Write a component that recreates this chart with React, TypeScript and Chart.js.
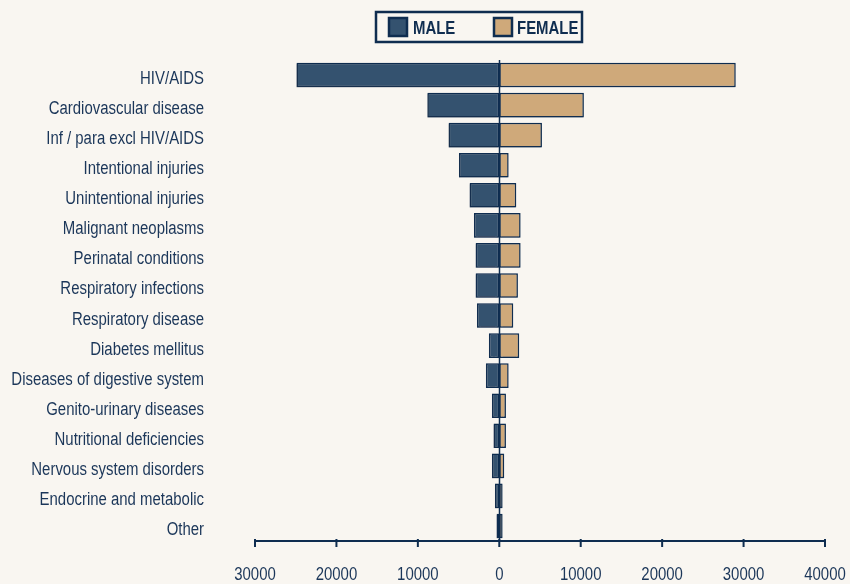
import React, { useEffect, useRef } from "react";
import { Chart, registerables } from "chart.js";

Chart.register(...registerables);

const categories = [
  "HIV/AIDS",
  "Cardiovascular disease",
  "Inf / para excl HIV/AIDS",
  "Intentional injuries",
  "Unintentional injuries",
  "Malignant neoplasms",
  "Perinatal conditions",
  "Respiratory infections",
  "Respiratory disease",
  "Diabetes mellitus",
  "Diseases of digestive system",
  "Genito-urinary diseases",
  "Nutritional deficiencies",
  "Nervous system disorders",
  "Endocrine and metabolic",
  "Other",
];

const maleValues = [
  24900, 8830, 6220, 4950, 3640, 3110, 2900, 2900, 2740, 1270, 1640, 900, 700,
  900, 530, 330,
];
const femaleValues = [
  29040, 10390, 5240, 1150, 2090, 2620, 2620, 2290, 1720, 2450, 1150, 820, 820,
  610, 410, 410,
];

const xTicks = [-30000, -20000, -10000, 0, 10000, 20000, 30000, 40000];
const xTickLabels = ["30000", "20000", "10000", "0", "10000", "20000", "30000", "40000"];

const FONT = "'Liberation Sans', Arial, sans-serif";
const NARROW = 0.83;
const TEXT = "#1b3659";
const DARK = "#0f2d50";
const MALE = "#34526f";
const FEMALE = "#cfa97a";
const BG = "#f9f6f1";

function narrowText(
  ctx: CanvasRenderingContext2D,
  text: string,
  x: number,
  y: number,
  align: CanvasTextAlign,
  font: string,
  color: string
) {
  ctx.save();
  ctx.translate(x, y);
  ctx.scale(NARROW, 1);
  ctx.font = font;
  ctx.fillStyle = color;
  ctx.textAlign = align;
  ctx.textBaseline = "alphabetic";
  ctx.fillText(text, 0, 0);
  ctx.restore();
}

const decorPlugin = {
  id: "decor",
  beforeDatasetsDraw(chart: any) {
    const ctx = chart.ctx;
    ctx.save();
    ctx.shadowColor = "rgba(40,50,70,0.45)";
    ctx.shadowBlur = 1.5;
    ctx.shadowOffsetX = -1;
    ctx.shadowOffsetY = 1;
  },
  afterDatasetsDraw(chart: any) {
    const ctx = chart.ctx;
    ctx.restore();
    const x = chart.scales.x;
    const y = chart.scales.y;
    const area = chart.chartArea;
    const zx = Math.round(x.getPixelForValue(0)) + 0.5;
    ctx.save();
    ctx.strokeStyle = DARK;
    ctx.lineWidth = 1.5;
    ctx.beginPath();
    ctx.moveTo(zx, area.top);
    ctx.lineTo(zx, area.bottom + 1);
    ctx.stroke();
    // axis ticks crossing the axis line
    ctx.lineWidth = 2;
    xTicks.forEach((v) => {
      const px = x.getPixelForValue(v);
      ctx.beginPath();
      ctx.moveTo(px, area.bottom - 2);
      ctx.lineTo(px, area.bottom + 6);
      ctx.stroke();
    });
    ctx.restore();
    // tick labels (condensed)
    xTicks.forEach((v, i) => {
      narrowText(ctx, xTickLabels[i], x.getPixelForValue(v), 580, "center", `18px ${FONT}`, TEXT);
    });
    categories.forEach((c, i) => {
      narrowText(ctx, c, 204, y.getPixelForTick(i) + 9, "right", `18px ${FONT}`, TEXT);
    });
  },
  afterDraw(chart: any) {
    const ctx = chart.ctx;
    ctx.save();
    ctx.strokeStyle = DARK;
    ctx.lineWidth = 2.5;
    ctx.fillStyle = BG;
    ctx.fillRect(376, 12, 206, 30);
    ctx.strokeRect(376, 12, 206, 30);
    const items = [
      { label: "MALE", color: MALE, x: 389, tx: 413 },
      { label: "FEMALE", color: FEMALE, x: 494, tx: 517 },
    ];
    items.forEach((it) => {
      ctx.fillStyle = it.color;
      ctx.fillRect(it.x, 18, 18, 18);
      ctx.lineWidth = 2.5;
      ctx.strokeStyle = DARK;
      ctx.strokeRect(it.x, 18, 18, 18);
      narrowText(ctx, it.label, it.tx, 34, "left", `bold 18px ${FONT}`, DARK);
    });
    ctx.restore();
  },
};

export default function App() {
  const ref = useRef<HTMLCanvasElement | null>(null);
  useEffect(() => {
    document.body.style.background = BG;
    const canvas = ref.current;
    if (!canvas) return;
    const chart = new Chart(canvas, {
      type: "bar",
      data: {
        labels: categories,
        datasets: [
          {
            label: "MALE",
            data: maleValues.map((v) => -v),
            backgroundColor: MALE,
            borderColor: DARK,
            borderWidth: 1.5,
            borderSkipped: false,
          },
          {
            label: "FEMALE",
            data: femaleValues,
            backgroundColor: FEMALE,
            borderColor: DARK,
            borderWidth: 1.5,
            borderSkipped: false,
          },
        ],
      },
      options: {
        indexAxis: "y",
        animation: false,
        responsive: false,
        maintainAspectRatio: false,
        layout: { padding: { top: 60, left: 0, right: 25, bottom: 0 } },
        datasets: {
          bar: { barPercentage: 0.82, categoryPercentage: 1 },
        },
        plugins: {
          legend: { display: false },
          tooltip: { enabled: false },
        },
        scales: {
          x: {
            type: "linear",
            stacked: true,
            min: -30000,
            max: 40000,
            afterBuildTicks(scale: any) {
              scale.ticks = xTicks.map((v) => ({ value: v }));
            },
            afterFit(scale: any) {
              scale.height = 43;
              scale.paddingLeft = 0;
              scale.paddingRight = 0;
              scale.paddingTop = 0;
              scale.paddingBottom = 0;
            },
            grid: { display: false, drawTicks: false },
            border: { display: true, color: DARK, width: 2 },
            ticks: { display: false },
          },
          y: {
            type: "category",
            stacked: true,
            afterFit(scale: any) {
              scale.width = 255;
              scale.paddingLeft = 0;
              scale.paddingRight = 0;
              scale.paddingTop = 0;
              scale.paddingBottom = 0;
            },
            grid: { display: false, drawTicks: false },
            border: { display: false },
            ticks: { display: false },
          },
        },
      },
      plugins: [decorPlugin],
    });
    return () => chart.destroy();
  }, []);
  return (
    <div
      style={{
        position: "fixed",
        left: 0,
        top: 0,
        width: 850,
        height: 584,
        background: BG,
      }}
    >
      <canvas ref={ref} width={850} height={584} />
    </div>
  );
}
